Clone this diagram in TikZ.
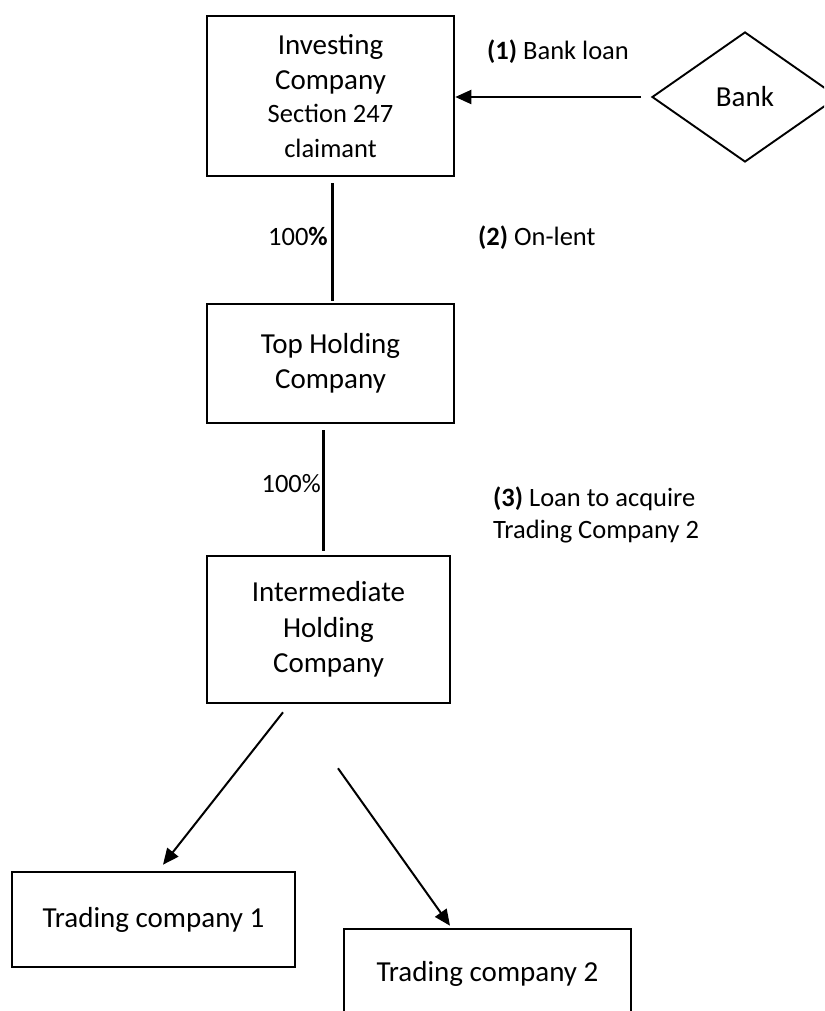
\documentclass[tikz,border=0pt]{standalone}
\usepackage{fontspec}
\setmainfont{Carlito}
\usetikzlibrary{shapes.geometric,arrows.meta}
\newcommand\boxfont{\fontsize{29}{35.5}\selectfont}
\newcommand\labelfont{\fontsize{26.5}{31.5}\selectfont}
\begin{document}
\begin{tikzpicture}
    [x=1pt,y=-1pt,
     company/.style={rectangle,draw,line width=2.6pt,align=center,font=\boxfont},
     bank/.style={diamond,draw,line width=1.9pt,aspect=1.43,minimum width=186pt,minimum height=130pt,inner sep=0pt,font=\boxfont},
     label/.style={inner sep=0pt,font=\labelfont},
     link/.style={line width=3pt},
     arr/.style={line width=2pt,-{Triangle[length=16pt,width=14pt]}}]
    \useasboundingbox (0,0) rectangle (824,1011);
    \clip (0,0) rectangle (824,1011);

    \node[company,minimum width=247pt,minimum height=160pt] (inv) at (330.5,96)
        {Investing\\Company\\[-3pt]{\labelfont Section 247}\\{\labelfont claimant}};
    \node[bank] (bank) at (745,97) {Bank};
    \node[company,minimum width=247pt,minimum height=119pt] (top) at (330.5,363.5) {Top Holding\\Company};
    \node[company,minimum width=243pt,minimum height=147pt] (mid) at (328.5,629.5) {Intermediate\\Holding\\Company};
    \node[company,minimum width=283pt,minimum height=95pt] (tc1) at (153.5,919.5) {Trading company 1};
    \node[company,minimum width=287pt,minimum height=90pt] (tc2) at (487.5,974) {Trading company 2};

    \node[label,anchor=base west] (l1) at (487,60) {\textbf{(1)} Bank loan};
    \node[label,anchor=base west] (l2) at (478,245) {\textbf{(2)} On-lent};
    \node[label,anchor=north west,align=left] (l3) at (493,487) {\textbf{(3)} Loan to acquire\\Trading Company 2};
    \node[label,anchor=base east] (p1) at (328,245) {100\textbf{\%}};
    \node[label,anchor=base east] (p2) at (321,492) {100\%};

    \coordinate (a1) at ([shift={(-45.5,8)}]mid.south);
    \coordinate (b1) at ([shift={(9.5,-6)}]tc1.north);
    \coordinate (a2) at ([shift={(9.5,64)}]mid.south);
    \coordinate (b2) at ([shift={(-37.5,-2)}]tc2.north);

    \draw[arr,shorten <=10pt] (bank.west) -- (inv.east |- bank.west);
    \draw[link,shorten <=6pt,shorten >=2pt] ([xshift=1.5pt]inv.south) -- ([xshift=1.5pt]top.north);
    \draw[link,shorten <=6pt,shorten >=4pt] ([xshift=-7.5pt]top.south) -- ([xshift=-7.5pt]top.south |- mid.north);
    \draw[arr] (a1) -- (b1);
    \draw[arr] (a2) -- (b2);
\end{tikzpicture}
\end{document}
